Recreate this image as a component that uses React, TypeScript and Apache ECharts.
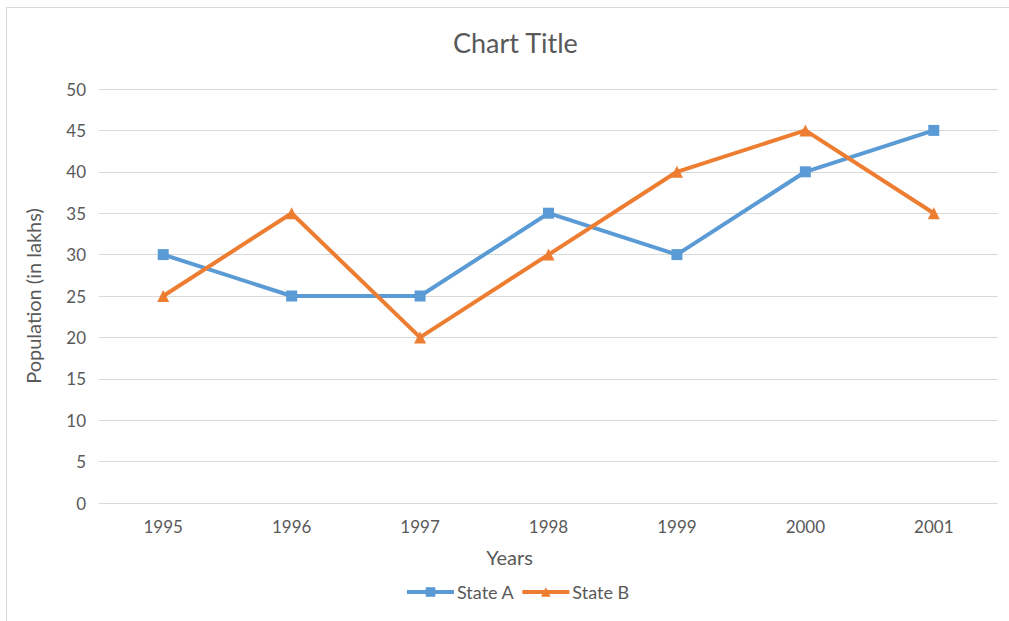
import React, { useEffect, useRef } from "react";
import * as echarts from "echarts";

const years = ["1995", "1996", "1997", "1998", "1999", "2000", "2001"];
const stateA = [30, 25, 25, 35, 30, 40, 45];
const stateB = [25, 35, 20, 30, 40, 45, 35];

const FONT = "Lato, 'Open Sans', sans-serif";
const TXT = "#595959";

export default function App() {
  const ref = useRef<HTMLDivElement>(null);
  useEffect(() => {
    if (!ref.current) return;
    const chart = echarts.init(ref.current, null, { renderer: "svg" });
    chart.setOption({
      animation: false,
      backgroundColor: "#ffffff",
      textStyle: { fontFamily: FONT },
      title: {
        text: "Chart Title",
        left: 448,
        top: 24,
        textStyle: { fontFamily: FONT, fontSize: 27, fontWeight: "normal", color: TXT },
      },
      graphic: [
        { type: "line", shape: { x1: 6.5, y1: 7, x2: 6.5, y2: 621 }, style: { stroke: "#d9d9d9", lineWidth: 1 } },
        { type: "line", shape: { x1: 6, y1: 7.5, x2: 1009, y2: 7.5 }, style: { stroke: "#d9d9d9", lineWidth: 1 } },
      ],
      grid: { left: 99, right: 11, top: 89, bottom: 118 },
      legend: {
        bottom: 15,
        left: 400,
        itemWidth: 47,
        itemHeight: 12,
        itemGap: 6,
        lineStyle: { width: 4 },
        textStyle: { fontFamily: FONT, fontSize: 18, color: TXT, padding: [0, 0, 0, -2] },
        data: ["State A", "State B"],
      },
      xAxis: {
        type: "category",
        data: years,
        boundaryGap: true,
        name: "Years",
        nameLocation: "middle",
        nameGap: 44,
        nameTextStyle: { fontFamily: FONT, fontSize: 20, color: TXT, padding: [0, 78, 0, 0] },
        axisLine: { show: false },
        axisTick: { show: false },
        axisLabel: { fontFamily: FONT, fontSize: 17, color: TXT, margin: 15 },
      },
      yAxis: {
        type: "value",
        min: 0,
        max: 50,
        interval: 5,
        name: "Population (in lakhs)",
        nameLocation: "middle",
        nameGap: 56,
        nameTextStyle: { fontFamily: FONT, fontSize: 20, color: TXT },
        axisLine: { show: false },
        axisTick: { show: false },
        axisLabel: { fontFamily: FONT, fontSize: 17, color: TXT, margin: 13 },
        splitLine: { lineStyle: { color: "#d9d9d9", width: 1 } },
      },
      series: [
        {
          name: "State A",
          type: "line",
          data: stateA,
          symbol: "rect",
          symbolSize: 11,
          lineStyle: { color: "#5b9bd5", width: 4 },
          itemStyle: { color: "#5b9bd5" },
        },
        {
          name: "State B",
          type: "line",
          data: stateB,
          symbol: "triangle",
          symbolSize: 12,
          lineStyle: { color: "#ed7d31", width: 4 },
          itemStyle: { color: "#ed7d31" },
        },
      ],
    });
    return () => chart.dispose();
  }, []);
  return (
    <div
      ref={ref}
      style={{ position: "fixed", left: 0, top: 0, width: 1009, height: 621 }}
    />
  );
}
